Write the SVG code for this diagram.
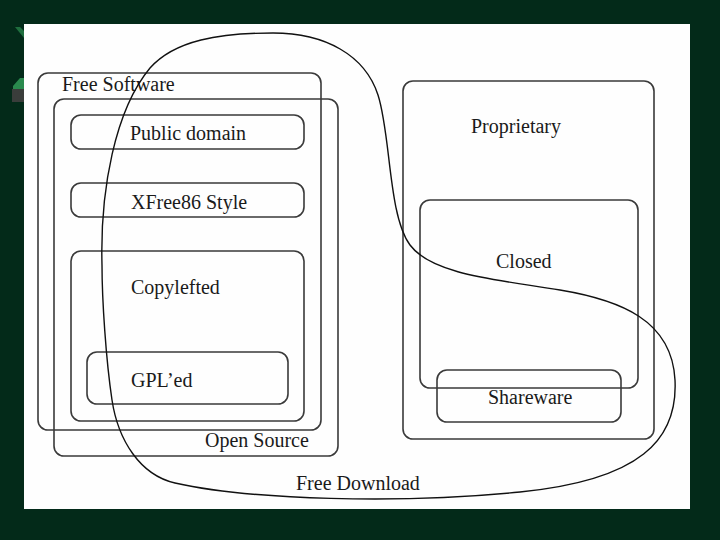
<svg xmlns="http://www.w3.org/2000/svg" width="720" height="540" viewBox="0 0 720 540">
<style>
.box{fill:none;stroke:#3a3a3a;stroke-width:1.6}
.lbl{font-family:"Liberation Serif","Times New Roman",serif;font-size:20px;fill:#1a1a1a}
.curve{fill:none;stroke:#111;stroke-width:1.4}
</style>
<rect x="0" y="0" width="720" height="540" fill="#032a19"/>
<polygon points="15,27 20,27 24,31 24,38" fill="#1f6e3e"/>
<polygon points="13,86 20,78 24,78 24,89 13,89" fill="#2a8a4e"/>
<rect x="12" y="89" width="12" height="13" fill="#3a3d3b"/>
<rect x="24" y="24" width="666" height="485" fill="#fefefe"/>
<g id="free-software"><rect class="box" x="38" y="73" width="283" height="357" rx="10"/><text class="lbl" x="62" y="91">Free Software</text></g>
<g id="open-source"><rect class="box" x="54" y="99" width="284" height="357" rx="10"/><text class="lbl" x="205" y="447">Open Source</text></g>
<g id="public-domain"><rect class="box" x="71" y="115" width="233" height="34" rx="10"/><text class="lbl" x="130" y="140">Public domain</text></g>
<g id="xfree86"><rect class="box" x="71" y="183" width="233" height="34" rx="10"/><text class="lbl" x="131" y="209">XFree86 Style</text></g>
<g id="copylefted"><rect class="box" x="71" y="251" width="233" height="170" rx="10"/><text class="lbl" x="131" y="294">Copylefted</text></g>
<g id="gpled"><rect class="box" x="87" y="352" width="201" height="52" rx="10"/><text class="lbl" x="131" y="387">GPL’ed</text></g>
<g id="proprietary"><rect class="box" x="403" y="81" width="251" height="358" rx="10"/><text class="lbl" x="471" y="133">Proprietary</text></g>
<g id="closed"><rect class="box" x="420" y="200" width="218" height="188" rx="10"/><text class="lbl" x="496" y="268">Closed</text></g>
<g id="shareware"><rect class="box" x="437" y="370" width="184" height="52" rx="10"/><text class="lbl" x="488" y="404">Shareware</text></g>
<g id="free-download"><text class="lbl" x="296" y="490">Free Download</text></g>
<g id="connectors">
<path class="curve" d="M102,265 C100,190 115,110 150,68 C175,40 220,33 273,33 C325,33 365,55 378,95 C391,135 388,215 410,245 C432,275 500,280 560,290 C620,300 672,320 675,380 C678,440 640,480 520,492 C400,504 250,500 175,483 C140,475 118,440 112,400 C106,360 102,300 102,265 Z"/>
</g>
</svg>
